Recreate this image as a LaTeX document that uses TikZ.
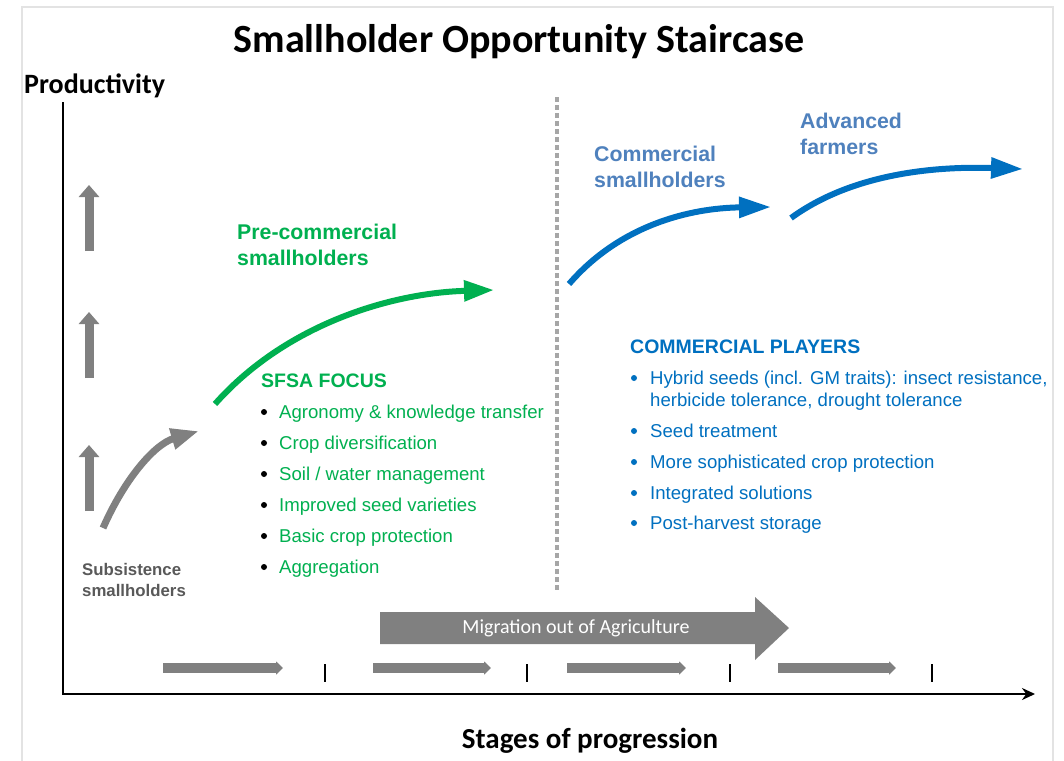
\documentclass[tikz,border=0pt]{standalone}
\usepackage{fontspec}
\setmainfont{Liberation Sans}
\newfontfamily\calibfont{Carlito}
\usetikzlibrary{arrows.meta}
\definecolor{sgreen}{HTML}{00B050}
\definecolor{sblue}{HTML}{0070C0}
\definecolor{lblue}{HTML}{4F81BD}
\definecolor{agray}{HTML}{808080}
\definecolor{tgray}{HTML}{595959}
\definecolor{dgray}{HTML}{A6A6A6}
\definecolor{fgray}{HTML}{E3E3E3}
\begin{document}
\begin{tikzpicture}[x=1pt,y=-1pt,
  txt/.style={anchor=base west, inner sep=0pt},
  stagehead/.style={txt, font=\bfseries\fontsize{21.3}{25}\selectfont},
  sechead/.style={txt, font=\bfseries\fontsize{19.5}{23}\selectfont},
  item/.style={txt, font=\fontsize{18.6}{22}\selectfont},
  calbold/.style={inner sep=0pt, font=\calibfont\bfseries\fontsize{28}{32}\selectfont},
  uparrow/.style={agray, line width=9pt, -{Triangle[length=12pt,width=20pt]}},
  smallarrow/.style={agray, line width=10pt, -{Triangle[length=7pt,width=13pt]}},
  curvegreen/.style={sgreen, line width=6pt, -{Triangle[length=30pt,width=20pt]}},
  curveblue/.style={sblue, line width=6pt, -{Triangle[length=32pt,width=20pt]}},
  curvegray/.style={agray, line width=7pt, -{Triangle[length=28pt,width=20pt]}},
  tick/.style={black, line width=2pt},
  bulletdot/.style={circle, inner sep=0pt, minimum size=6pt}
]
\useasboundingbox (0,0) rectangle (1064,760);
\fill[white] (0,0) rectangle (1064,760);
% frame
\draw[fgray, line width=1.5pt] (22,770) -- (22,7) -- (1053,7) -- (1053,770);

% title and axis labels
\node[inner sep=0pt, font=\calibfont\bfseries\fontsize{40}{46}\selectfont] (title) at (519,42) {Smallholder Opportunity Staircase};
\node[calbold, anchor=base west] (ylab) at (24,93) {Productivity};
\node[calbold, font=\calibfont\bfseries\fontsize{29}{33}\selectfont] (xlab) at (590,741) {Stages of progression};

% axes
\coordinate (origin) at (63,694);
\coordinate (ytop) at (63,103);
\coordinate (xend) at (1035,694);
\draw[black, line width=2.2pt, line cap=rect] (ytop) -- (origin);
\draw[black, line width=2.2pt, -{Stealth[length=13pt,width=12pt]}] (origin) -- (xend);

% dotted divider
\coordinate (divtop) at (557,97);
\coordinate (divbot) at (557,592);
\draw[dgray, line width=4.5pt, dash pattern=on 4.5pt off 3.5pt] (divtop) -- (divbot);

% up arrows
\foreach \yb/\yt [count=\i] in {251/185, 378/312, 511/445}{
  \coordinate (ub\i) at (89,\yb);
  \coordinate (ut\i) at (89,\yt);
  \draw[uparrow] (ub\i) -- (ut\i);
}

% gray curved arrow
\coordinate (gs) at (103,528);
\coordinate (ge) at (199,431);
\draw[curvegray] (gs) .. controls (125,478) and (155,444) .. (ge);

% green curved arrow
\coordinate (grs) at (215,404);
\coordinate (gre) at (494,290);
\draw[curvegreen] (grs) .. controls (285,325) and (390,293) .. (gre);

% blue curved arrows
\coordinate (b1s) at (569,284);
\coordinate (b1e) at (771,207);
\draw[curveblue] (b1s) .. controls (620,225) and (690,208) .. (b1e);
\coordinate (b2s) at (791,218);
\coordinate (b2e) at (1023,169);
\draw[curveblue] (b2s) .. controls (850,175) and (930,166) .. (b2e);

% stage headings
\node[txt, font=\bfseries\fontsize{16.8}{20}\selectfont, text=tgray] (sub1) at (82,575) {Subsistence};
\node[txt, font=\bfseries\fontsize{16.8}{20}\selectfont, text=tgray] (sub2) at (82,596) {smallholders};
\node[stagehead, text=sgreen] (pc1) at (237,239) {Pre-commercial};
\node[stagehead, text=sgreen] (pc2) at (237,265) {smallholders};
\node[stagehead, text=lblue] (cs1) at (594,161) {Commercial};
\node[stagehead, text=lblue] (cs2) at (594,187) {smallholders};
\node[stagehead, text=lblue] (af1) at (800,128) {Advanced};
\node[stagehead, text=lblue] (af2) at (800,154) {farmers};

% SFSA focus
\node[sechead, text=sgreen] (sfsa) at (261,387) {SFSA FOCUS};
\foreach \y/\t [count=\i] in {418/{Agronomy \& knowledge transfer}, 449/{Crop diversification}, 480/{Soil / water management}, 511/{Improved seed varieties}, 542/{Basic crop protection}, 573/{Aggregation}}{
  \node[bulletdot, fill=black] (sb\i) at (264,\y-6) {};
  \node[item, text=sgreen] (si\i) at (279,\y) {\t};
}

% Commercial players
\node[sechead, text=sblue] (cp) at (630,353) {COMMERCIAL PLAYERS};
\node[bulletdot, fill=sblue] (cb1) at (634,378) {};
\node[item, text=sblue] (ci1a) at (650,384) {Hybrid seeds (incl. GM traits): insect resistance,};
\node[item, text=sblue] (ci1b) at (650,406) {herbicide tolerance, drought tolerance};
\foreach \y/\t [count=\i from 2] in {437/{Seed treatment}, 468/{More sophisticated crop protection}, 499/{Integrated solutions}, 529/{Post-harvest storage}}{
  \node[bulletdot, fill=sblue] (cb\i) at (634,\y-6) {};
  \node[item, text=sblue] (ci\i) at (650,\y) {\t};
}

% migration arrow
\fill[agray] (380,612) -- (755,612) -- (755,597) -- (789,628) -- (755,660) -- (755,644) -- (380,644) -- cycle;
\node[inner sep=0pt, text=white, font=\calibfont\fontsize{20}{24}\selectfont] (mig) at (576,628) {Migration out of Agriculture};

% small stage arrows
\foreach \xa/\xb [count=\i] in {163/283, 373/491, 567/686, 778/896}{
  \coordinate (sa\i) at (\xa,668);
  \coordinate (sz\i) at (\xb,668);
  \draw[smallarrow] (sa\i) -- (sz\i);
}
% ticks
\foreach \x [count=\i] in {325,527,730,932}{
  \coordinate (tt\i) at (\x,664);
  \coordinate (tb\i) at (\x,682);
  \draw[tick] (tt\i) -- (tb\i);
}
\end{tikzpicture}
\end{document}
